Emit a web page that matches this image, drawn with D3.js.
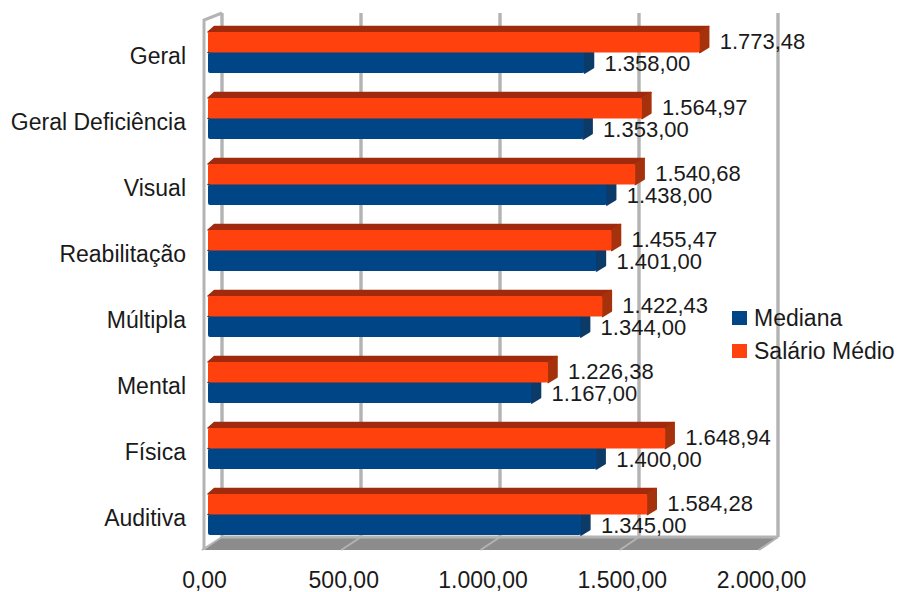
<!DOCTYPE html>
<html>
  <head>
    <meta charset="utf-8">
    <title>salario e mediana</title>
    <style>
      body { margin: 0; background: #fff; }
      svg { display: block; }
      text { font-family: "Liberation Sans", sans-serif; font-size: 23px; fill: #1a1a1a; }
      text.value0, text.value1 { font-size: 22px; }
    </style>
  </head>
  <body>
    <div class="graph"></div>
    <script src="https://d3js.org/d3.v7.min.js"></script>
    <script>
        var w = 897, h = 592;
        var categories = ["Geral", "Geral Deficiência", "Visual", "Reabilitação", "Múltipla", "Mental", "Física", "Auditiva"];
        var mediana = [1358.00, 1353.00, 1438.00, 1401.00, 1344.00, 1167.00, 1400.00, 1345.00];
        var salario = [1773.48, 1564.97, 1540.68, 1455.47, 1422.43, 1226.38, 1648.94, 1584.28];
        var seriesNames = ["Mediana", "Salário Médio"];
        var tickValues = [0, 500, 1000, 1500, 2000];

        var colors = {front: ["#004586", "#ff420e"], top: ["#0b3a68", "#a02c08"], side: ["#0b3a68", "#a63208"]};
        var dx = 9, dy = -5.5; // depth of the bars

        var svg = d3.select(".graph").append("svg").attr("width", w).attr("height", h);
        var blur = svg.append("defs").append("filter").attr("id", "soft");
        blur.append("feGaussianBlur").attr("stdDeviation", 0.6);

        // bars sit in front, the back wall and the floor edge are shifted
        var x = d3.scaleLinear().domain([0, 2000]).range([208, 762.5]);
        var xBack = d3.scaleLinear().domain([0, 2000]).range([222, 778]);
        var xFloor = d3.scaleLinear().domain([0, 2000]).range([204, 761]);
        var y = d3.scaleBand().domain(categories).range([19.5, 547.5]);
        var ySeries = d3.scaleBand().domain(["Salário Médio", "Mediana"]).range([12.5, 53.5]);

        var wallTop = 13, wallBottom = 537, floorBottom = 550;
        var grey = "#b3b3b3";

        // floor
        svg.append("polygon")
        	.attr("points", [[xFloor(0), floorBottom], [xBack(0), wallBottom], [xBack(2000), wallBottom], [xFloor(2000) - 3, floorBottom]].join(" "))
        	.style("fill", "#8c8c8c");
        svg.append("line")
        	.attr("x1", xBack(0)).attr("x2", xBack(2000))
        	.attr("y1", wallBottom).attr("y2", wallBottom)
        	.style("stroke", grey).style("stroke-width", 3);

        // grid on the back wall and its continuation over the floor
        svg.selectAll(".grid")
        	.data(tickValues)
        	.enter()
        	.append("line")
        	.attr("class", "grid")
        	.attr("x1", function(d) { return xBack(d); })
        	.attr("x2", function(d) { return xBack(d); })
        	.attr("y1", wallTop).attr("y2", wallBottom)
        	.style("stroke", grey).style("stroke-width", 3.4);
        svg.selectAll(".floorTick")
        	.data(tickValues)
        	.enter()
        	.append("line")
        	.attr("class", "floorTick")
        	.attr("x1", function(d) { return xBack(d); })
        	.attr("x2", function(d) { return xFloor(d) - 2; })
        	.attr("y1", wallBottom).attr("y2", floorBottom)
        	.style("stroke", grey).style("stroke-width", 2);

        // left side wall
        svg.append("polyline")
        	.attr("points", [[xBack(0), wallTop], [xFloor(0), wallTop + 7], [xFloor(0), floorBottom]].join(" "))
        	.style("fill", "none").style("stroke", grey).style("stroke-width", 3);

        // bars, blue first so the orange one covers its top face
        var bars = svg.append("g").attr("filter", "url(#soft)");
        [mediana, salario].forEach(function(values, s) {
        	var group = bars.selectAll(".bar" + s)
        		.data(values)
        		.enter()
        		.append("g")
        		.attr("class", "bar" + s);
        	var top = function(i) { return y(categories[i]) + ySeries(seriesNames[s]); };
        	var bottom = function(i) { return top(i) + ySeries.bandwidth(); };

        	group.append("path")
        		.attr("d", function(d, i) {
        			return "M" + x(0) + "," + top(i) + "L" + (x(0) + dx * 0.7) + "," + (top(i) + dy) +
        				"L" + (x(d) + dx) + "," + (top(i) + dy) + "L" + x(d) + "," + top(i) + "Z";
        		})
        		.style("fill", colors.top[s]).style("stroke", colors.top[s]).style("stroke-width", 1.5).style("stroke-linejoin", "round");
        	group.append("path")
        		.attr("d", function(d, i) {
        			return "M" + x(d) + "," + top(i) + "L" + (x(d) + dx) + "," + (top(i) + dy) +
        				"L" + (x(d) + dx) + "," + (bottom(i) + dy) + "L" + x(d) + "," + bottom(i) + "Z";
        		})
        		.style("fill", colors.side[s]).style("stroke", colors.side[s]).style("stroke-width", 1.5).style("stroke-linejoin", "round");
        	group.append("rect")
        		.attr("x", x(0))
        		.attr("y", function(d, i) { return top(i); })
        		.attr("width", function(d) { return x(d) - x(0); })
        		.attr("height", ySeries.bandwidth())
        		.attr("rx", 2)
        		.style("fill", colors.front[s]);
        });

        // value labels
        var fmt = function(d) {
        	return d3.format(",.2f")(d).replace(/[,.]/g, function(c) { return c == "," ? "." : ","; });
        };
        [mediana, salario].forEach(function(values, s) {
        	svg.selectAll(".value" + s)
        		.data(values)
        		.enter()
        		.append("text")
        		.attr("class", "value" + s)
        		.attr("x", function(d) { return x(d) + 20; })
        		.attr("y", function(d, i) { return y(categories[i]) + ySeries(seriesNames[s]) + (s == 0 ? 18 : 17); })
        		.text(fmt);
        });

        // axes, only their labels are visible
        var yAxis = svg.append("g")
        	.attr("transform", "translate(186,4)")
        	.call(d3.axisLeft(y).tickSize(0).tickPadding(0));
        var xAxis = svg.append("g")
        	.attr("transform", "translate(0,572)")
        	.call(d3.axisBottom(xFloor).tickValues(tickValues).tickSize(0).tickPadding(0).tickFormat(fmt));
        [yAxis, xAxis].forEach(function(a) {
        	a.attr("font-family", null).attr("font-size", null);
        	a.select(".domain").remove();
        });

        // legend
        var legend = svg.selectAll(".legend")
        	.data(seriesNames)
        	.enter()
        	.append("g")
        	.attr("class", "legend")
        	.attr("transform", function(d, i) { return "translate(732," + (311 + i * 33) + ")"; });
        legend.append("rect")
        	.attr("width", 15).attr("height", 14)
        	.style("fill", function(d, i) { return colors.front[i]; });
        legend.append("text")
        	.attr("x", 22).attr("y", 15)
        	.text(function(d) { return d; });
    </script>
  </body>
</html>
